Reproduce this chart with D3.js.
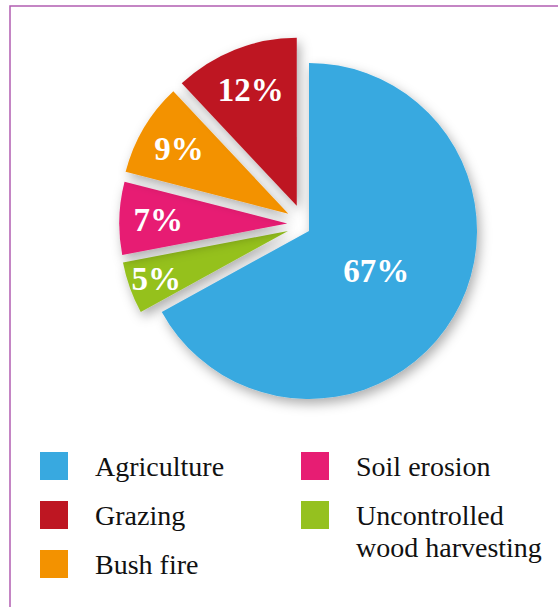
<!DOCTYPE html>
<html>
<head>
<meta charset="utf-8">
<script src="https://cdn.jsdelivr.net/npm/d3@7"></script>
<style>
  body { margin: 0; background: #fff; }
  svg { display: block; }
</style>
</head>
<body>
<div id="chart"></div>
<script>
// pie goes clockwise from 12 o'clock in this order
var categories = ["Agriculture", "Uncontrolled wood harvesting", "Soil erosion", "Bush fire", "Grazing"];
var values = [67, 5, 7, 9, 12];
var colors = ["#38a9e0", "#95c11f", "#e71d73", "#f39200", "#be1622"];

// legend layout: two columns
var legendLeft = ["Agriculture", "Grazing", "Bush fire"];
var legendRight = ["Soil erosion", "Uncontrolled wood harvesting"];

// how far each slice is pulled out (px) and in which direction (deg, clockwise from top)
var explodeDist = [0, 21, 23, 27, 28];
var explodeAngle = [0, 270, 289, 310, 334];
var labelRadius = [78, 140, 129, 127, 125];

var width = 558, height = 607;
var cx = 309, cy = 231, radius = 168;

var svg = d3.select("#chart").append("svg")
    .attr("width", width)
    .attr("height", height);

// frame (right and bottom run off the picture)
svg.append("rect")
    .attr("x", 10).attr("y", 6)
    .attr("width", 600).attr("height", 700)
    .attr("fill", "none")
    .attr("stroke", "#b15db1")
    .attr("stroke-width", 1.5);

var defs = svg.append("defs");
var filter = defs.append("filter")
    .attr("id", "shadow")
    .attr("x", "-30%").attr("y", "-30%")
    .attr("width", "160%").attr("height", "160%");
filter.append("feDropShadow")
    .attr("dx", 3).attr("dy", 5)
    .attr("stdDeviation", 6)
    .attr("flood-color", "#000")
    .attr("flood-opacity", 0.32);

var data = categories.map(function(c, i) {
    return { name: c, value: values[i], color: colors[i], i: i };
});

var pie = d3.pie()
    .sort(null)
    .value(function(d) { return d.value; });

var arc = d3.arc().innerRadius(0).outerRadius(radius);

var slices = pie(data);

function offset(d) {
    var a = explodeAngle[d.data.i] * Math.PI / 180,
        r = explodeDist[d.data.i];
    return [cx + Math.sin(a) * r, cy - Math.cos(a) * r];
}

// small slices first so the big one sits on top of their shadows
var drawOrder = slices.slice(1).concat([slices[0]]);

var g = svg.append("g");
g.selectAll("path")
    .data(drawOrder)
    .enter()
    .append("path")
    .attr("d", arc)
    .attr("fill", function(d) { return d.data.color; })
    .attr("filter", "url(#shadow)")
    .attr("transform", function(d) {
        return "translate(" + offset(d) + ")";
    });

var fontSize = 33;
svg.append("g").selectAll("text")
    .data(slices)
    .enter()
    .append("text")
    .attr("transform", function(d) {
        var lr = labelRadius[d.data.i];
        var c = d3.arc().innerRadius(lr).outerRadius(lr).centroid(d);
        var o = offset(d);
        return "translate(" + [o[0] + c[0], o[1] + c[1] + fontSize * 0.338] + ")";
    })
    .attr("text-anchor", "middle")
    .attr("fill", "#fff")
    .style("font-family", "'Liberation Serif', 'Times New Roman', serif")
    .style("font-weight", "bold")
    .style("font-size", fontSize + "px")
    .text(function(d) { return d.data.value + "%"; });

// legend
function colorOf(name) {
    return colors[categories.indexOf(name)];
}

function drawLegend(names, x, textX) {
    var lg = svg.append("g");
    names.forEach(function(name, k) {
        var y = 452 + k * 49;
        lg.append("rect")
            .attr("x", x).attr("y", y)
            .attr("width", 28).attr("height", 28)
            .attr("fill", colorOf(name));
        var t = lg.append("text")
            .attr("x", textX)
            .attr("y", y + 24)
            .attr("fill", "#111")
            .style("font-family", "'Liberation Serif', 'Times New Roman', serif")
            .style("font-size", "28px");
        if (name === "Uncontrolled wood harvesting") {
            t.append("tspan").attr("x", textX).text("Uncontrolled");
            t.append("tspan").attr("x", textX).attr("dy", 32).text("wood harvesting");
        } else {
            t.text(name);
        }
    });
}

drawLegend(legendLeft, 40, 95);
drawLegend(legendRight, 301, 356);
</script>
</body>
</html>
